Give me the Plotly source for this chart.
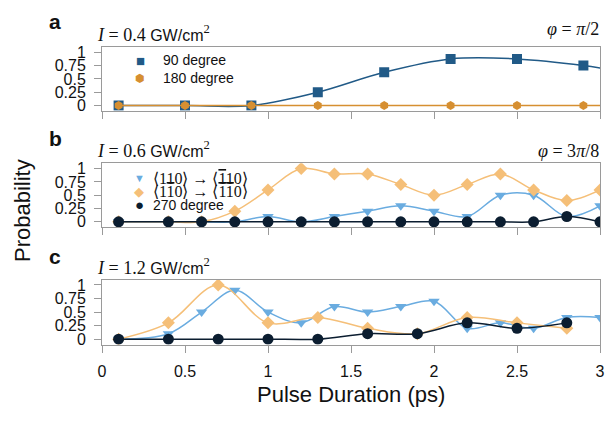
import plotly.graph_objects as go

# ---------------- data ----------------
a_x = [0.1, 0.5, 0.9, 1.3, 1.7, 2.1, 2.5, 2.9, 3.3]
a_90 = [0, 0, 0, 0.25, 0.625, 0.875, 0.875, 0.75, 0.55]
a_180 = [0, 0, 0, 0, 0, 0, 0, 0, 0]

b_x = [0.1, 0.4, 0.6, 0.8, 1.0, 1.2, 1.4, 1.6, 1.8, 2.0, 2.2, 2.4, 2.6, 2.8, 3.0]
b_tri = [0, 0, 0, 0, 0.1, 0, 0.1, 0.2, 0.3, 0.2, 0.1, 0.5, 0.5, 0.1, 0.3]
b_dia = [0, 0, 0, 0.2, 0.6, 1.0, 0.9, 0.9, 0.7, 0.5, 0.7, 0.9, 0.6, 0.4, 0.6]
b_circ = [0, 0, 0, 0, 0, 0, 0, 0, 0, 0, 0, 0, 0, 0.1, 0]

c_tri_x = [0.1, 0.4, 0.6, 0.8, 1.0, 1.2, 1.4, 1.6, 1.8, 2.0, 2.2, 2.4, 2.6, 2.8, 3.0]
c_tri = [0, 0.1, 0.5, 0.9, 0.5, 0.3, 0.6, 0.5, 0.6, 0.7, 0.2, 0.3, 0.2, 0.4, 0.4]
c_x = [0.1, 0.4, 0.7, 1.0, 1.3, 1.6, 1.9, 2.2, 2.5, 2.8]
c_dia = [0, 0.3, 1.0, 0.3, 0.4, 0.2, 0.1, 0.4, 0.3, 0.2]
c_circ = [0, 0, 0, 0, 0, 0.1, 0.1, 0.3, 0.2, 0.3]

y_tickvals = [0, 0.25, 0.5, 0.75, 1]
y_ticktext = ["0", "0.25", "0.5", "0.75", "1"]
x_tickvals = [0, 0.5, 1, 1.5, 2, 2.5, 3]
x_ticktext = ["0", "0.5", "1", "1.5", "2", "2.5", "3"]

# ---------------- style ----------------
W, H = 609, 421
L, R = 102, 600
SANS = "Liberation Sans, Arial, Helvetica, sans-serif"
SERIF = "Liberation Serif, Times New Roman, serif"
GRAY = "#9a9a9a"

C90 = "#215a87"
C180 = "#d68f31"
CTRI = "#6aace0"
CDIA = "#f5bf78"
CCIRC = "#0b1d30"


def px(x):
    return (x - L) / (R - L)


def py(y):
    return 1 - y / H


def dom(y0, y1):
    # y0 = pixel of value 0, y1 = pixel of value 1 ; range [-0.1,1.1]
    u = y0 - y1
    top = y1 - 0.1 * u
    bot = y0 + 0.1 * u
    return [py(bot), py(top)]


fig = go.Figure()


def line_trace(x, y, color, symbol, size, ax, lw=1.5):
    return go.Scatter(
        x=x, y=y, mode="lines+markers",
        line=dict(color=color, width=lw, shape="spline", smoothing=1.0),
        marker=dict(color=color, symbol=symbol, size=size, line=dict(width=0)),
        xaxis="x" + ax, yaxis="y" + ax, showlegend=False, cliponaxis=True,
    )


# panel a (axes 1)
fig.add_trace(line_trace(a_x, a_90, C90, "square", 10, ""))
fig.add_trace(line_trace(a_x, a_180, C180, "hexagon", 9, ""))
# panel b (axes 2)
fig.add_trace(line_trace(b_x, b_tri, CTRI, "triangle-down", 10, "2"))
fig.add_trace(line_trace(b_x, b_dia, CDIA, "diamond", 10, "2"))
fig.add_trace(line_trace(b_x, b_circ, CCIRC, "circle", 11, "2"))
# panel c (axes 3)
fig.add_trace(line_trace(c_tri_x, c_tri, CTRI, "triangle-down", 10, "3"))
fig.add_trace(line_trace(c_x, c_dia, CDIA, "diamond", 10, "3"))
fig.add_trace(line_trace(c_x, c_circ, CCIRC, "circle", 11, "3"))

xbase = dict(range=[0, 3], tickvals=x_tickvals, ticktext=x_ticktext,
             ticks="outside", ticklen=7, tickcolor=GRAY, tickwidth=1,
             showline=True, linecolor=GRAY, linewidth=1, mirror=True,
             showgrid=False, zeroline=False,
             tickfont=dict(family=SANS, size=16, color="#111"))
ybase = dict(range=[-0.1, 1.1], tickvals=y_tickvals, ticktext=y_ticktext,
             ticks="outside", ticklen=7, tickcolor=GRAY, tickwidth=1,
             showline=True, linecolor=GRAY, linewidth=1, mirror=True,
             showgrid=False, zeroline=False, ticklabelstandoff=5,
             tickfont=dict(family=SANS, size=16, color="#111"))

fig.update_layout(
    width=W, height=H,
    margin=dict(l=L, r=W - R, t=0, b=0),
    paper_bgcolor="white", plot_bgcolor="white",
    xaxis=dict(xbase, anchor="y", showticklabels=False),
    yaxis=dict(ybase, anchor="x", domain=dom(104, 50)),
    xaxis2=dict(xbase, anchor="y2", showticklabels=False),
    yaxis2=dict(ybase, anchor="x2", domain=dom(222, 168)),
    xaxis3=dict(xbase, anchor="y3", showticklabels=True, ticklabelstandoff=5),
    yaxis3=dict(ybase, anchor="x3", domain=dom(341, 286)),
)

ann = []


def text(x, y, s, size=15, family=SANS, xanchor="left", color="#111", **kw):
    ann.append(dict(x=px(x), y=py(y), xref="paper", yref="paper", text=s,
                    showarrow=False, xanchor=xanchor, yanchor="middle",
                    font=dict(family=family, size=size, color=color), **kw))


# panel letters
for lab, yy in (("a", 19), ("b", 137), ("c", 257)):
    text(55, yy, "<b>%s</b>" % lab, size=21, xanchor="center")


# intensity labels
def ilabel(val):
    return ("<i>I</i> = %s <span style='font-family:Liberation Sans;font-size:16px'>GW/cm</span>"
            "<sup>2</sup>" % val)


text(95, 31, ilabel("0.4"), size=18, family=SERIF)
text(95, 149, ilabel("0.6"), size=18, family=SERIF)
text(95, 267, ilabel("1.2"), size=18, family=SERIF)

# phase labels
text(601, 26, "<i>φ</i> = <i>π</i>/2", size=18, family=SERIF, xanchor="right")
text(601, 150, "<i>φ</i> = 3<i>π</i>/8", size=18, family=SERIF, xanchor="right")

# legends panel a
text(140, 58, "■", size=15, color=C90, xanchor="center")
text(161, 58, "90 degree", size=14)
text(140, 76, "⬢", size=11, color=C180, xanchor="center")
text(161, 76, "180 degree", size=14)

# legends panel b
OB = "<span style='text-decoration:overline'>1</span>"
b1 = "⟨110⟩ → ⟨" + OB + "10⟩"
b2 = "⟨1" + OB + "0⟩ → ⟨" + OB + OB + "0⟩"
text(139, 178, "▼", size=11, color=CTRI, xanchor="center")
text(151, 178, b1, size=16, family=SERIF)
text(139, 191, "◆", size=13, color=CDIA, xanchor="center")
text(151, 191, b2, size=16, family=SERIF)
text(139, 204, "●", size=15, color=CCIRC, xanchor="center")
text(151, 205, "270 degree", size=14)

# axis titles
text(23, 211, "Probability", size=22, xanchor="center", textangle=-90)
text(351, 397, "Pulse Duration (ps)", size=22, xanchor="center")

fig.update_layout(annotations=ann)
fig.write_html("out.html", config={"displayModeBar": False},
               post_script="document.body.style.margin='0px';")
